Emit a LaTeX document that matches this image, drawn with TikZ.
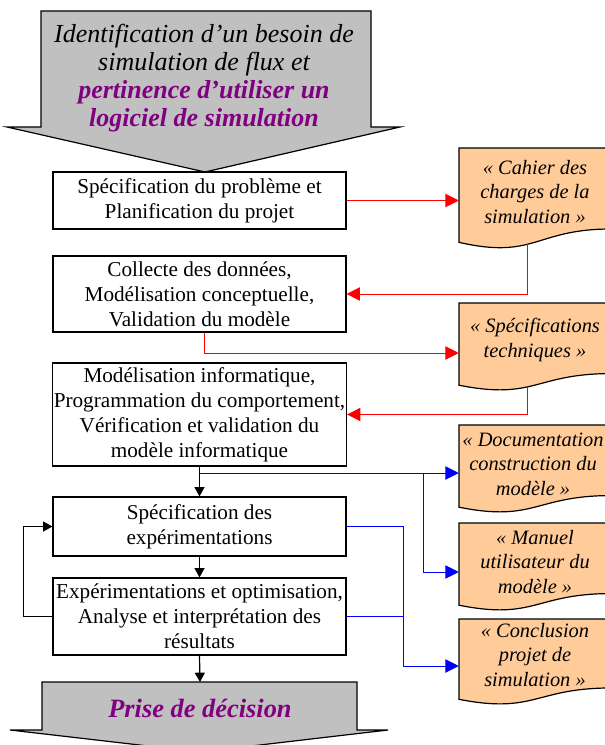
\documentclass[tikz,border=0pt]{standalone}
\usepackage{fontspec}
\setmainfont{Liberation Serif}
\usetikzlibrary{arrows.meta,calc}

\definecolor{arrowgray}{RGB}{192,192,192}
\definecolor{docpeach}{RGB}{255,204,153}
\definecolor{prune}{RGB}{128,0,128}

\tikzset{
  etape/.style={draw, fill=white, line width=0.9pt, minimum width=219.75pt, align=center, inner sep=1pt, font=\fontsize{15.9}{18.75}\selectfont},
  livrable/.style={minimum width=114pt, align=center, inner sep=0pt, font=\itshape\fontsize{15.3}{18.4}\selectfont},
  docshape/.style={draw, fill=docpeach, line width=0.9pt},
  flux/.style={-{Triangle[length=7pt,width=7.5pt]}, line width=0.9pt},
  rouge/.style={color=red, -{Triangle[length=10pt,width=10pt]}, line width=0.75pt},
  bleu/.style={color=blue, line width=0.75pt},
  bleufleche/.style={bleu, -{Triangle[length=10pt,width=10pt]}}
}

\begin{document}
\begin{tikzpicture}[x=0.75pt,y=0.75pt,yscale=-1,xscale=1]
\useasboundingbox (0,0) rectangle (605,745);

%Shape: Down Arrow (besoin)
\draw [fill=arrowgray, line width=0.9pt] (41,11) -- (371,11) -- (371,127) -- (400,127) -- (205,172) -- (7,127) -- (41,127) -- cycle ;
%Shape: Down Arrow (decision)
\draw [fill=arrowgray, line width=0.9pt] (42,682) -- (357,682) -- (357,730) -- (388,730) -- (200,752) -- (10,730) -- (42,730) -- cycle ;

%Shapes: Documents
\foreach \t/\h in {148/101,303/88,425/88,523/88,619/86}
  \draw [docshape] (459,\t) -- (611,\t) -- (611,{\t+0.802*\h}) .. controls (535,{\t+0.802*\h}) and (535,{\t+1.107*\h}) .. (459,{\t+0.934*\h}) -- cycle ;

% Text Node
\node [align=center, font=\itshape\fontsize{19.5}{21}\selectfont] (besoin) at (204,78) {Identification d’un besoin de\\simulation de flux et\\\textcolor{prune}{\bfseries pertinence d’utiliser un}\\\textcolor{prune}{\bfseries logiciel de simulation}};
% Text Node
\node [font=\bfseries\itshape\fontsize{19.8}{21}\selectfont, text=prune] (decision) at (200,708) {Prise de décision};

% Steps
\node [etape, minimum height=42.75pt] (specif) at (199.5,200.5) {Spécification du problème et\\Planification du projet};
\node [etape, minimum height=57pt] (collecte) at (199.5,294) {Collecte des données,\\Modélisation conceptuelle,\\Validation du modèle};
\node [etape, minimum height=77.25pt] (modinfo) at (199.5,414.5) {Modélisation informatique,\\Programmation du comportement,\\Vérification et validation du\\modèle informatique};
\node [etape, minimum height=44.25pt] (specexp) at (199.5,526.5) {Spécification des\\expérimentations};
\node [etape, minimum height=57.75pt] (experim) at (199.5,616.5) {Expérimentations et optimisation,\\Analyse et interprétation des\\résultats};

% Deliverables
\node [livrable] (cahier) at (535,192) {«~Cahier des\\charges de la\\simulation~»};
\node [livrable] (spectech) at (535,340) {«~Spécifications\\techniques~»};
\node [livrable] (docu) at (533,464) {«~Documentation\\construction du\\modèle~»};
\node [livrable] (manuel) at (535,562) {«~Manuel\\utilisateur du\\modèle~»};
\node [livrable] (conclu) at (535,655) {«~Conclusion\\projet de\\simulation~»};

\coordinate (sortiecahier) at (527,244);
\coordinate (sortiespec) at (527,387);
\coordinate (embranch) at (423,473);
\coordinate (retour) at (403,666);
\coordinate (entreedecision) at (200,682);

%Red Lines
\draw [rouge] (specif.east) -- (specif.east -| cahier.west) ;
\draw [rouge] (sortiecahier) |- (collecte.east) ;
\draw [rouge] ($(collecte.south)+(5,0)$) |- ($(spectech.west)+(0,13)$) ;
\draw [rouge] (sortiespec) |- (modinfo.east) ;

%Blue Lines
\draw [bleufleche] (modinfo.south) |- ($(cahier.west |- docu.west)+(0,9)$) ;
\draw [bleufleche] (embranch) |- ($(manuel.west)+(0,10)$) ;
\draw [bleu] (specexp.east) -| (retour) ;
\draw [bleufleche] (retour) -- ($(conclu.west)+(0,11)$) ;
\draw [bleu] (experim.east) -- (experim.east -| retour) ;

%Black Lines
\draw [flux] (modinfo.south) -- (specexp.north) ;
\draw [flux] (specexp.south) -- (experim.north) ;
\draw [flux] (experim.south) -- (entreedecision) ;
\draw [flux] (experim.west) -- ++(-29,0) |- (specexp.west) ;
\end{tikzpicture}
\end{document}
